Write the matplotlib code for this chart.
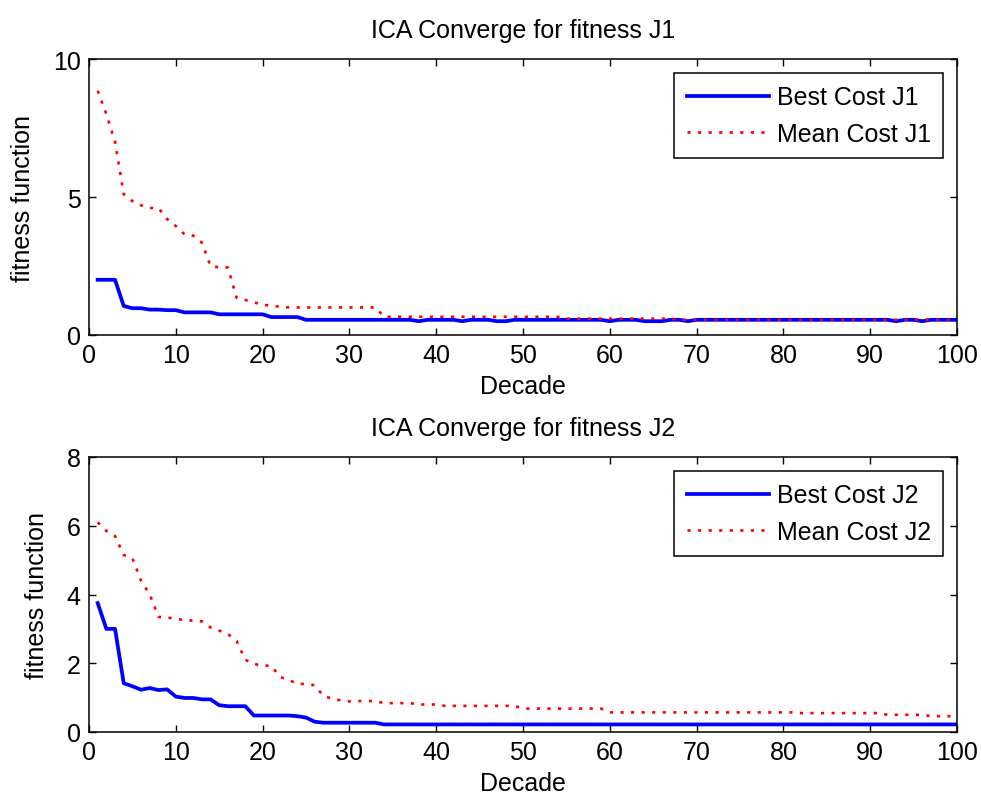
import numpy as np
import matplotlib
matplotlib.use("Agg")
import matplotlib.pyplot as plt

plt.rcParams['font.family'] = ['Liberation Sans', 'DejaVu Sans']

# decade index 1..100
decade = list(range(1, 101))

best_j1 = ([2.0, 2.0, 2.0, 1.05, 0.97, 0.97, 0.92, 0.92, 0.9, 0.9]
           + [0.82] * 4 + [0.75] * 6 + [0.65] * 4
           + [0.55] * 13 + [0.5] + [0.55] * 4 + [0.5] + [0.55] * 3
           + [0.5] * 2 + [0.55] * 11 + [0.5] + [0.55] * 3 + [0.5] * 3
           + [0.55] * 2 + [0.5] + [0.55] * 23 + [0.5] + [0.55] * 2
           + [0.5] + [0.55] * 4)

mean_j1 = ([8.85, 8.0, 7.0, 5.1, 4.85, 4.7, 4.6, 4.6, 4.2, 3.95,
            3.65, 3.6, 3.35, 2.5, 2.45, 2.45, 1.35, 1.27, 1.18, 1.1,
            1.06, 1.03]
           + [1.0] * 11 + [0.66] * 21 + [0.59] * 13 + [0.55] * 33)

best_j2 = ([3.75, 3.0, 3.0, 1.42, 1.33, 1.23, 1.28, 1.22, 1.24, 1.03,
            0.99, 0.99, 0.95, 0.95, 0.78, 0.75, 0.75, 0.75, 0.48, 0.48,
            0.48, 0.48, 0.48, 0.46, 0.42, 0.3]
           + [0.27] * 7 + [0.22] * 67)

mean_j2 = ([6.1, 5.85, 5.7, 5.15, 5.05, 4.4, 4.0, 3.35, 3.33, 3.3,
            3.25, 3.24, 3.22, 3.04, 2.95, 2.85, 2.65, 2.1, 1.98, 1.93,
            1.93, 1.6, 1.52, 1.4, 1.4, 1.36, 1.05, 0.97, 0.92, 0.89]
           + [0.9] * 3 + [0.84] * 4 + [0.8] * 3 + [0.76] * 9 + [0.68] * 10
           + [0.57] * 22 + [0.55] * 10 + [0.5] * 5 + [0.46] * 4)

panels = [
    ("ICA Converge for fitness J1", best_j1, mean_j1, "J1", [0, 5, 10], 10),
    ("ICA Converge for fitness J2", best_j2, mean_j2, "J2", [0, 2, 4, 6, 8], 8),
]

W, H = 981, 803
fig = plt.figure(figsize=(W / 100, H / 100), dpi=100)
fs = 18

rects = [(89, 60, 957, 336), (89, 458, 957, 733)]

for (title, best, mean, tag, yticks, ymax), (l, t, r, b) in zip(panels, rects):
    ax = fig.add_axes([l / W, 1 - b / H, (r - l) / W, (b - t) / H])
    ax.plot(decade, best, color='blue', lw=2.7, label='Best Cost ' + tag)
    ax.plot(decade, mean, color='red', lw=1.9, linestyle=(0, (1.2, 2.8)),
            label='Mean Cost ' + tag)
    ax.set_xlim(0, 100)
    ax.set_ylim(0, ymax)
    ax.set_xticks(range(0, 101, 10))
    ax.set_yticks(yticks)
    ax.tick_params(direction='in', length=5, width=1, top=True, right=True,
                   labelsize=fs, pad=6)
    for s in ax.spines.values():
        s.set_linewidth(1.1)
    ax.set_title(title, fontsize=fs, pad=16)
    ax.set_xlabel("Decade", fontsize=fs, labelpad=5)
    ax.set_ylabel("fitness function", fontsize=fs, labelpad=13)
    leg = ax.legend(loc='upper right', fontsize=fs, frameon=True, fancybox=False,
                    edgecolor='black', framealpha=1, handlelength=3.3,
                    handletextpad=0.3, borderpad=0.5, labelspacing=0.5,
                    borderaxespad=0.55)
    leg.get_frame().set_linewidth(1.1)

fig.savefig("out.png", dpi=100)
